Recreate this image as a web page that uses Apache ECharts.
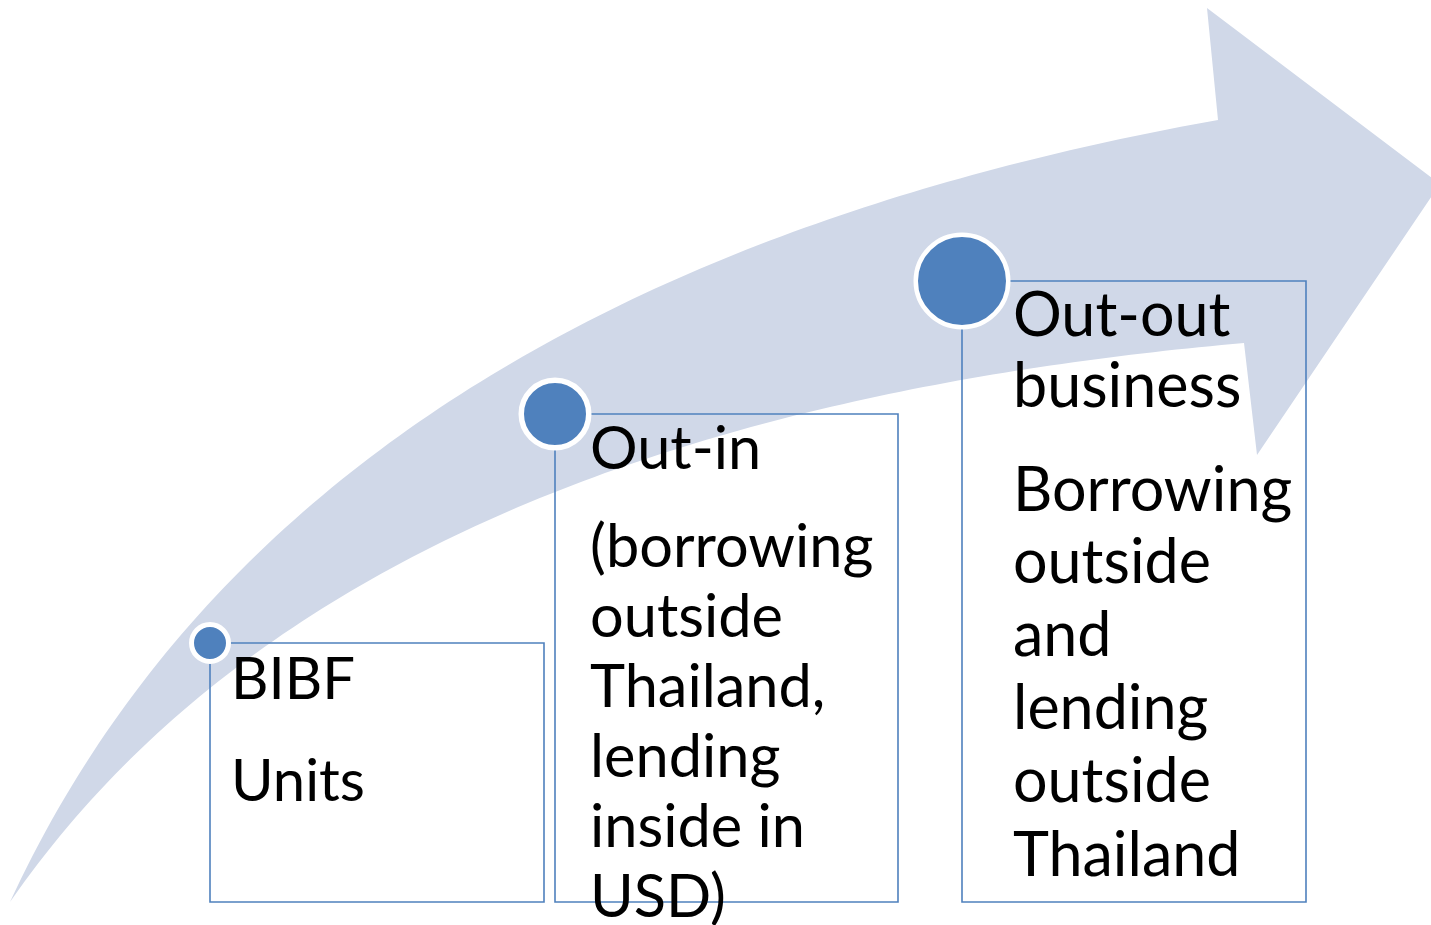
<!DOCTYPE html>
<html>
<head>
<meta charset="utf-8">
<script src="https://cdn.jsdelivr.net/npm/echarts@6/dist/echarts.min.js"></script>
<style>
html,body{margin:0;padding:0;background:#fff;}
#chart{width:1431px;height:925px;}
</style>
</head>
<body>
<div id="chart"></div>
<script>
// ---- content ----
const stepHeadings = [['BIBF'], ['Out-in'], ['Out-out', 'business']];
const stepDetails = [
  ['Units'],
  ['(borrowing', 'outside', 'Thailand,', 'lending', 'inside in', 'USD)'],
  ['Borrowing', 'outside', 'and', 'lending', 'outside', 'Thailand']
];
const stepOrder = [0, 1, 2];

// ---- layout (pixel space of the 1431x925 canvas) ----
const W = 1431, H = 925;
const LAYOUT = {
  boxes: [
    {x: 210, y: 643, right: 544, bottom: 902, r: 16, ring: 5, tx: 231, base: [700, 802], font: 58},
    {x: 555, y: 414, right: 898, bottom: 902, r: 31, ring: 5.5, tx: 590, base: [470, 568, 638, 708, 778, 848, 918], font: 59.5},
    {x: 962, y: 281, right: 1306, bottom: 902, r: 44, ring: 4.5, tx: 1013, base: [337, 408, 512, 584, 657, 730, 803, 877], font: 61}
  ],
  arrow: {
    // traced points of the upper (outer) edge, tail -> head
    outer: [[10, 902], [37, 850], [90, 750], [185, 643], [273, 550], [370, 450], [400, 428], [533, 350], [667, 280], [767, 240], [900, 198], [1074, 160], [1218, 120]],
    head: [[1207, 8], [1440, 184], [1257, 455]],
    // traced points of the lower (inner) edge, head -> tail
    inner: [[1244, 343], [1074, 363], [900, 392], [800, 413], [700, 440], [600, 473], [517, 510], [450, 543], [267, 643], [213, 683], [140, 750], [77, 817], [10, 902]]
  }
};
const COLORS = {arrow: '#D0D8E8', accent: '#4F81BD', text: '#000000'};
const FONT = 'Lato, "Open Sans", sans-serif';

// least-squares smooth cubic through traced points (fixed ends)
function bezPt(P0, C1, C2, P3, t) {
  const u = 1 - t;
  return [
    u*u*u*P0[0] + 3*u*u*t*C1[0] + 3*u*t*t*C2[0] + t*t*t*P3[0],
    u*u*u*P0[1] + 3*u*u*t*C1[1] + 3*u*t*t*C2[1] + t*t*t*P3[1]
  ];
}
function fitCubic(Q) {
  const P0 = Q[0], P3 = Q[Q.length - 1];
  // chord-length params
  let ts = [0];
  for (let i = 1; i < Q.length; i++) ts.push(ts[i-1] + Math.hypot(Q[i][0]-Q[i-1][0], Q[i][1]-Q[i-1][1]));
  ts = ts.map(v => v / ts[ts.length - 1]);
  let C1, C2;
  for (let iter = 0; iter < 8; iter++) {
    let a11 = 0, a12 = 0, a22 = 0, bx1 = 0, bx2 = 0, by1 = 0, by2 = 0;
    Q.forEach((q, i) => {
      const t = ts[i], u = 1 - t;
      const A1 = 3*u*u*t, A2 = 3*u*t*t;
      const rx = q[0] - (u*u*u*P0[0] + t*t*t*P3[0]);
      const ry = q[1] - (u*u*u*P0[1] + t*t*t*P3[1]);
      a11 += A1*A1; a12 += A1*A2; a22 += A2*A2;
      bx1 += A1*rx; bx2 += A2*rx; by1 += A1*ry; by2 += A2*ry;
    });
    const det = a11*a22 - a12*a12;
    C1 = [(bx1*a22 - bx2*a12)/det, (by1*a22 - by2*a12)/det];
    C2 = [(a11*bx2 - a12*bx1)/det, (a11*by2 - a12*by1)/det];
    // reparametrize: nearest point on curve
    ts = Q.map((q, i) => {
      if (i === 0) return 0;
      if (i === Q.length - 1) return 1;
      let best = ts[i], bd = Infinity;
      for (let k = 0; k <= 400; k++) {
        const t = k / 400, p = bezPt(P0, C1, C2, P3, t);
        const d = (p[0]-q[0])*(p[0]-q[0]) + (p[1]-q[1])*(p[1]-q[1]);
        if (d < bd) { bd = d; best = t; }
      }
      return best;
    });
  }
  const pts = [];
  for (let k = 0; k <= 120; k++) pts.push(bezPt(P0, C1, C2, P3, k / 120));
  return pts;
}

function renderArrow(params, api) {
  const A = LAYOUT.arrow;
  const pts = fitCubic(A.outer).concat(A.head, fitCubic(A.inner));
  return {
    type: 'polygon',
    shape: {points: pts.map(p => api.coord(p))},
    style: {fill: COLORS.arrow},
    silent: true
  };
}

function renderStep(params, api) {
  const i = api.value(0);
  const b = LAYOUT.boxes[i];
  const tl = api.coord([b.x, b.y]);
  const br = api.coord([b.right, b.bottom]);
  const children = [];
  children.push({
    type: 'rect',
    shape: {x: tl[0], y: tl[1], width: br[0] - tl[0], height: br[1] - tl[1]},
    style: {fill: 'none', stroke: COLORS.accent, lineWidth: 1.6}
  });
  const lines = stepHeadings[i].concat(stepDetails[i]);
  lines.forEach((txt, k) => {
    const p = api.coord([b.tx, b.base[k]]);
    children.push({
      type: 'text',
      style: {
        text: txt, x: p[0], y: p[1] - b.font * 0.34,
        fill: COLORS.text, fontSize: b.font, fontFamily: FONT,
        align: 'left', verticalAlign: 'middle'
      }
    });
  });
  children.push({
    type: 'circle',
    shape: {cx: tl[0], cy: tl[1], r: b.r + b.ring / 2},
    style: {fill: COLORS.accent, stroke: '#ffffff', lineWidth: b.ring}
  });
  return {type: 'group', children: children};
}

const chart = echarts.init(document.getElementById('chart'), null, {renderer: 'canvas'});
chart.setOption({
  animation: false,
  backgroundColor: '#ffffff',
  grid: {left: 0, right: 0, top: 0, bottom: 0},
  xAxis: {type: 'value', min: 0, max: W, show: false},
  yAxis: {type: 'value', min: 0, max: H, inverse: true, show: false},
  series: [
    {type: 'custom', renderItem: renderArrow, data: [[0]], z: 1, clip: false, silent: true},
    {type: 'custom', renderItem: renderStep, data: stepOrder.map(i => [i]), z: 2, clip: false, silent: true}
  ]
});
</script>
</body>
</html>
